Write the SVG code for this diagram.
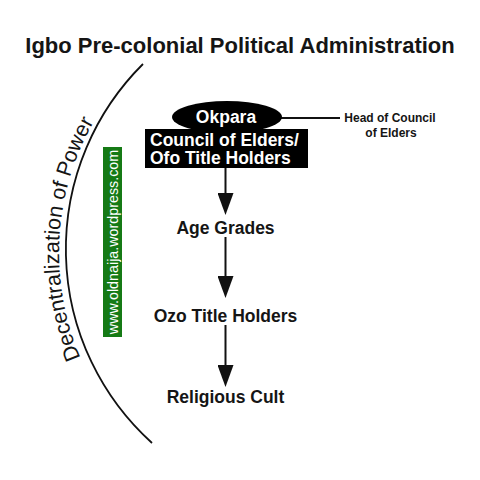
<svg xmlns="http://www.w3.org/2000/svg" width="480" height="480" viewBox="0 0 480 480">
<style>
.t{font-family:"Liberation Sans",Arial,sans-serif;font-weight:bold;fill:#151515}
.w{font-family:"Liberation Sans",Arial,sans-serif;font-weight:bold;fill:#fff}
.lbl{font-size:17.5px;text-anchor:middle}
.conn{stroke:#111;stroke-width:2;fill:none}
</style>
<defs>
<marker id="ah" markerUnits="userSpaceOnUse" viewBox="0 -8 22 16" markerWidth="22" markerHeight="16" refX="12" refY="0" orient="auto">
<path d="M0,-8 L22,0 L0,8 z" fill="#111"/>
</marker>
<path id="arcText" d="M81.7,360.4 A265,265 0 0,1 95.2,119.3"/>
</defs>
<rect width="480" height="480" fill="#fff"/>
<text class="t" x="240" y="53" font-size="22" text-anchor="middle">Igbo Pre-colonial Political Administration</text>
<g id="arc">
<path d="M143,64 A261,261 0 0,0 152,443" stroke="#111" stroke-width="1.8" fill="none"/>
<text font-family="'Liberation Sans',Arial,sans-serif" font-size="21.5" fill="#151515"><textPath href="#arcText" startOffset="50%" text-anchor="middle">Decentralization of Power</textPath></text>
</g>
<g id="watermark">
<rect x="103" y="147" width="19" height="190" fill="#157a15"/>
<text x="117.5" y="242" transform="rotate(-90 117.5 242)" font-family="'Liberation Sans',Arial,sans-serif" font-size="14.3" fill="#fff" text-anchor="middle">www.oldnaija.wordpress.com</text>
</g>
<g id="connectors">
<line class="conn" x1="280" y1="118" x2="340" y2="118"/>
<line class="conn" x1="225.5" y1="167" x2="225.5" y2="205" marker-end="url(#ah)"/>
<line class="conn" x1="225.5" y1="237" x2="225.5" y2="288" marker-end="url(#ah)"/>
<line class="conn" x1="225.5" y1="325" x2="225.5" y2="377" marker-end="url(#ah)"/>
</g>
<g id="okpara">
<ellipse cx="227" cy="117" rx="55" ry="16" fill="#000"/>
<text class="w" x="226" y="123" font-size="17.5" text-anchor="middle">Okpara</text>
</g>
<g id="head-label">
<text class="t" x="390" y="122" font-size="12" text-anchor="middle">Head of Council</text>
<text class="t" x="391" y="137" font-size="12" text-anchor="middle">of Elders</text>
</g>
<g id="council">
<rect x="145" y="129" width="163" height="39" fill="#000"/>
<text class="w" x="150" y="146" font-size="17.5">Council of Elders/</text>
<text class="w" x="150" y="164" font-size="17.5">Ofo Title Holders</text>
</g>
<g id="age-grades"><text class="t lbl" x="225.5" y="234">Age Grades</text></g>
<g id="ozo"><text class="t lbl" x="225.5" y="322">Ozo Title Holders</text></g>
<g id="religious"><text class="t lbl" x="225.5" y="403">Religious Cult</text></g>
</svg>
